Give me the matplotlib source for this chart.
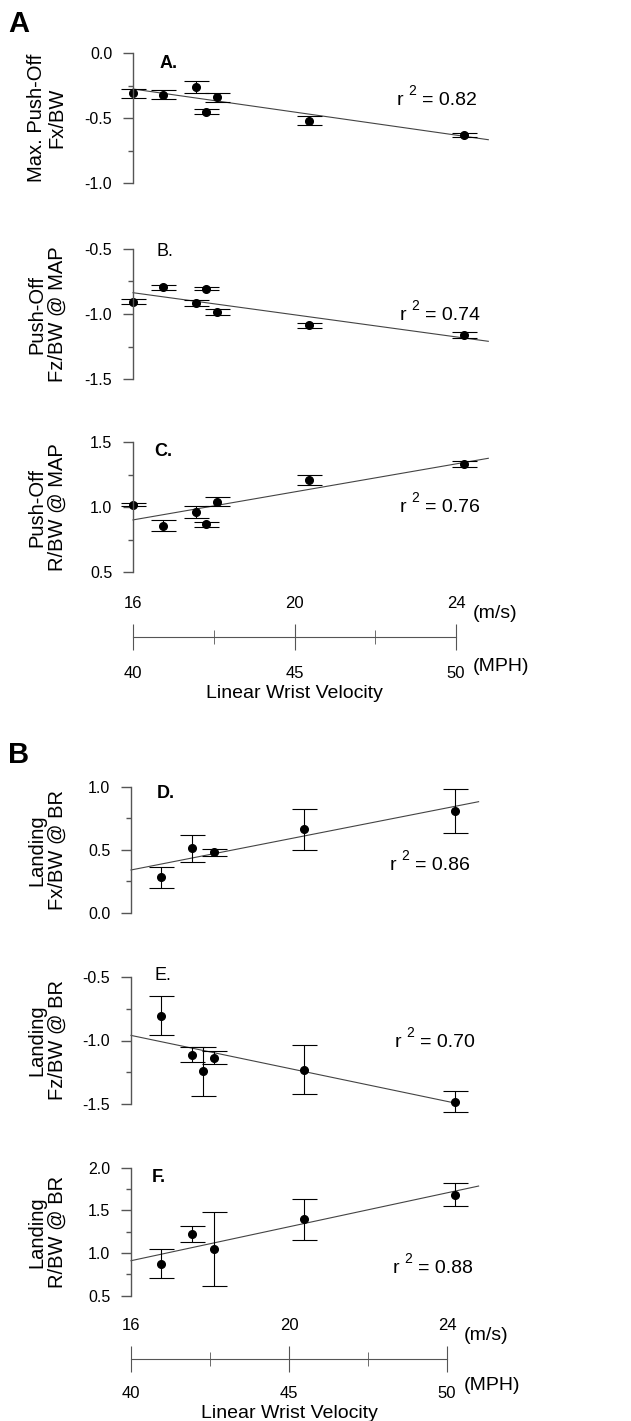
import matplotlib
matplotlib.use("Agg")
import matplotlib.pyplot as plt
from matplotlib.ticker import MultipleLocator, FormatStrFormatter

plt.rcParams['font.family'] = ['Liberation Sans Narrow', 'Liberation Sans', 'DejaVu Sans']
plt.rcParams['axes.unicode_minus'] = False

# wrist velocity (m/s) of each subject
vel_push = [16.0, 16.75, 17.55, 17.82, 18.09, 20.37, 24.2]
vel_land = [16.75, 17.55, 18.09, 20.37, 24.2]
vel_land_e = [16.75, 17.55, 17.82, 18.09, 20.37, 24.2]

# push-off
fx_push = [-0.31, -0.32, -0.26, -0.45, -0.34, -0.52, -0.63]
fx_push_err = [0.035, 0.035, 0.048, 0.023, 0.035, 0.035, 0.015]
fz_push = [-0.906, -0.796, -0.916, -0.806, -0.985, -1.087, -1.16]
fz_push_err = [0.018, 0.018, 0.02, 0.01, 0.025, 0.02, 0.02]
r_push = [1.02, 0.859, 0.962, 0.869, 1.044, 1.21, 1.331]
r_push_err = [0.01, 0.04, 0.045, 0.02, 0.035, 0.037, 0.023]

# landing
fx_land = [0.28, 0.51, 0.479, 0.661, 0.807]
fx_land_err = [0.086, 0.107, 0.03, 0.164, 0.172]
fz_land = [-0.805, -1.111, -1.242, -1.134, -1.228, -1.479]
fz_land_err = [0.154, 0.059, 0.193, 0.052, 0.189, 0.081]
r_land = [0.875, 1.223, 1.043, 1.398, 1.684]
r_land_err = [0.172, 0.088, 0.434, 0.24, 0.137]

# regression line end points
fit_x = [16.0, 24.8]
fit_x_e = [16.0, 24.2]
fit_a = [-0.277, -0.667]
fit_b = [-0.837, -1.209]
fit_c = [0.903, 1.377]
fit_d = [0.339, 0.881]
fit_e = [-0.96, -1.49]
fit_f = [0.91, 1.785]

r2 = ['0.82', '0.74', '0.76', '0.86', '0.70', '0.88']

W, H = 631, 1421
fig = plt.figure(figsize=(W / 100, H / 100), dpi=100)
GRAY = '#555555'


def add_ax(left, top, right, bottom):
    return fig.add_axes([left / W, 1 - bottom / H, (right - left) / W, (bottom - top) / H])


def ftext(x, y, s, **kw):
    return fig.text(x / W, 1 - y / H, s, **kw)


def panel(left, scale, top, bottom, xs, ys, errs, ylim, fx, fy, tag, tag_xy, bold, ylab, r2s, r2xy):
    right = left + 8.9 * scale
    ax = add_ax(left, top, right, bottom)
    ax.set_xlim(16, 24.9)
    ax.set_ylim(*ylim)
    for s in ['top', 'right', 'bottom']:
        ax.spines[s].set_visible(False)
    ax.spines['left'].set_bounds(*ylim)
    ax.spines['left'].set_color(GRAY)
    ax.spines['left'].set_linewidth(1.0)
    ax.set_xticks([])
    ax.yaxis.set_major_locator(MultipleLocator(0.5))
    ax.yaxis.set_minor_locator(MultipleLocator(0.25))
    ax.yaxis.set_major_formatter(FormatStrFormatter('%.1f'))
    ax.tick_params(axis='y', which='major', length=7, width=1, color=GRAY, pad=8, labelsize=11.5)
    ax.tick_params(axis='y', which='minor', length=3.5, width=1, color=GRAY)
    ax.patch.set_alpha(0)
    ax.plot(fx, fy, color='#444444', lw=0.8, clip_on=False)
    ax.errorbar(xs, ys, yerr=errs, fmt='o', color='black', ms=5.5, elinewidth=0.8,
                capsize=9, capthick=0.8, clip_on=False)
    ftext(tag_xy[0], tag_xy[1], tag, fontsize=13, fontweight='bold' if bold else 'normal',
          va='center', ha='left')
    ftext(47, (top + bottom) / 2, ylab, rotation=90, ha='center', va='center',
          fontsize=14.5, linespacing=1.1)
    rx, ry = r2xy
    ftext(rx, ry, 'r', fontsize=14, va='baseline')
    ftext(rx + 11, ry - 10, '2', fontsize=10, va='baseline')
    ftext(rx + 25, ry, '= ' + r2s, fontsize=14, va='baseline')
    return ax


def velocity_axis(left, scale, top, bottom, line_y, up_y, down_y, title_y):
    right = left + 8.9 * scale
    ax = add_ax(left, top, right, bottom)
    ax.set_xlim(16, 24.9)
    ax.set_ylim(bottom, top)
    for s in ['top', 'right', 'left']:
        ax.spines[s].set_visible(False)
    ax.spines['bottom'].set_position(('data', line_y))
    ax.spines['bottom'].set_bounds(16, 24)
    ax.spines['bottom'].set_color(GRAY)
    ax.set_yticks([])
    ax.set_xticks([16, 20, 24])
    ax.set_xticks([18, 22], minor=True)
    ax.tick_params(axis='x', which='major', direction='inout', length=19, color=GRAY, labelbottom=False)
    ax.tick_params(axis='x', which='minor', direction='inout', length=10, color=GRAY, labelbottom=False)
    ax.patch.set_alpha(0)
    for v, ms, mph in zip([16, 20, 24], ['16', '20', '24'], ['40', '45', '50']):
        ax.text(v, up_y, ms, ha='center', va='center', fontsize=12)
        ax.text(v, down_y, mph, ha='center', va='center', fontsize=12)
    ax.text(24.42, up_y + 10, '(m/s)', ha='left', va='center', fontsize=14)
    ax.text(24.42, down_y - 7, '(MPH)', ha='left', va='center', fontsize=14)
    ax.text(20, title_y, 'Linear Wrist Velocity', ha='center', va='center', fontsize=14)


# section A (push-off)
LA, SA = 133, 40.375
ftext(8, 24, 'A', fontsize=21, fontweight='bold', va='center', ha='left')
panel(LA, SA, 53, 183, vel_push, fx_push, fx_push_err, (-1.0, 0.0), fit_x, fit_a,
      'A.', (160, 63), True, 'Max. Push-Off\nFx/BW', r2[0], (397, 105))
panel(LA, SA, 248.7, 379.3, vel_push, fz_push, fz_push_err, (-1.5, -0.5), fit_x, fit_b,
      'B.', (157, 252), False, 'Push-Off\nFz/BW @ MAP', r2[1], (400, 320))
panel(LA, SA, 442.3, 572.3, vel_push, r_push, r_push_err, (0.5, 1.5), fit_x, fit_c,
      'C.', (154, 452), True, 'Push-Off\nR/BW @ MAP', r2[2], (400, 512))
velocity_axis(LA, SA, 585, 705, 637, 603, 673, 693)

# section B (landing)
LB, SB = 131, 39.5
ftext(8, 755, 'B', fontsize=21, fontweight='bold', va='center', ha='left')
panel(LB, SB, 786.7, 912.7, vel_land, fx_land, fx_land_err, (0.0, 1.0), fit_x, fit_d,
      'D.', (157, 794), True, 'Landing\nFx/BW @ BR', r2[3], (390, 870))
panel(LB, SB, 976.7, 1104.3, vel_land_e, fz_land, fz_land_err, (-1.5, -0.5), fit_x_e, fit_e,
      'E.', (155, 975), False, 'Landing\nFz/BW @ BR', r2[4], (395, 1047))
panel(LB, SB, 1167.7, 1295.7, vel_land, r_land, r_land_err, (0.5, 2.0), fit_x, fit_f,
      'F.', (152, 1178), True, 'Landing\nR/BW @ BR', r2[5], (393, 1273))
velocity_axis(LB, SB, 1310, 1421, 1359, 1325, 1393, 1413)

fig.savefig('out.png', dpi=100)
